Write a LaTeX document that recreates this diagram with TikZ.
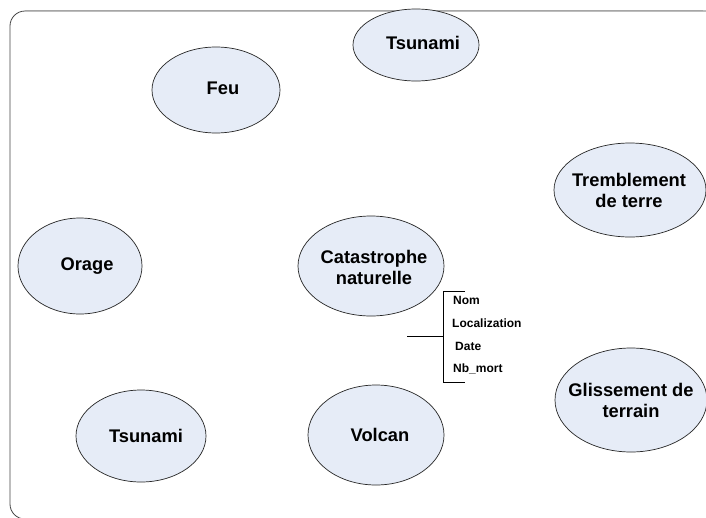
\documentclass[tikz,border=0pt]{standalone}
\usepackage{fontspec}
\setmainfont{Liberation Sans}
\usetikzlibrary{shapes.geometric}
\definecolor{bubble}{RGB}{230,236,247}
\definecolor{framegray}{RGB}{70,70,70}
\tikzset{
  entity/.style={draw=black!85, line width=0.7pt, fill=bubble, ellipse,
    inner sep=0pt, minimum width=#1},
  biglabel/.style={font=\fontsize{18.3}{21}\selectfont\bfseries, align=center, inner sep=0pt},
  attr/.style={font=\fontsize{12}{14}\selectfont\bfseries, anchor=west, inner sep=0pt},
}
\begin{document}
\begin{tikzpicture}[x=1pt, y=-1pt]
  \useasboundingbox (0,0) rectangle (706,517);
  \fill[white] (0,0) rectangle (706,517);
  % outer frame, partly outside the page
  \begin{scope}
    \clip (0,0) rectangle (706,517);
    \draw[framegray, line width=0.8pt, rounded corners=15pt] (10,11) rectangle (722,519);
    \draw[gray!70, line width=1.2pt] (25,10.5) -- (703,10.5);
  \end{scope}

  % entities (ellipse, then its label)
  \node[entity=128pt, minimum height=86pt] (feu) at (216,90) {};
  \node[biglabel] (feuT) at (223,88) {Feu};

  \node[entity=126pt, minimum height=72pt] (tsu1) at (416,45) {};
  \node[biglabel] (tsu1T) at (423,43) {Tsunami};

  \node[entity=152pt, minimum height=94pt] (trem) at (630,190) {};
  \node[biglabel] (tremT) at (629,190) {Tremblement\\de terre};

  \node[entity=124pt, minimum height=96pt] (orage) at (80,266) {};
  \node[biglabel] (orageT) at (87,266) {Orage};

  \node[entity=146pt, minimum height=100pt] (cat) at (371,266) {};
  \node[biglabel] (catT) at (374,267) {Catastrophe\\naturelle};

  \node[entity=152pt, minimum height=104pt] (gliss) at (631,400) {};
  \node[biglabel] (glissT) at (631,400) {Glissement de\\terrain};

  \node[entity=130pt, minimum height=92pt] (tsu2) at (141,436) {};
  \node[biglabel] (tsu2T) at (146,436) {Tsunami};

  \node[entity=136pt, minimum height=100pt] (volcan) at (376,435) {};
  \node[biglabel] (volcanT) at (380,435) {Volcan};

  % attribute bracket
  \coordinate (btop) at (443,291);
  \coordinate (bbot) at (443,382);
  \coordinate (bmid) at (443,336);
  \coordinate (bin) at (407,336);
  \coordinate (btopend) at (465,291);
  \coordinate (bbotend) at (465,382);
  \draw[black, line width=0.7pt] (btopend) -- (btop) -- (bbot) -- (bbotend);
  \draw[black, line width=0.7pt] (bin) -- (bmid);

  \node[attr] (nom) at (453,300) {Nom};
  \node[attr] (loc) at (452,323) {Localization};
  \node[attr] (date) at (455,346) {Date};
  \node[attr] (nb) at (453,369) {Nb\_mort};
\end{tikzpicture}
\end{document}
